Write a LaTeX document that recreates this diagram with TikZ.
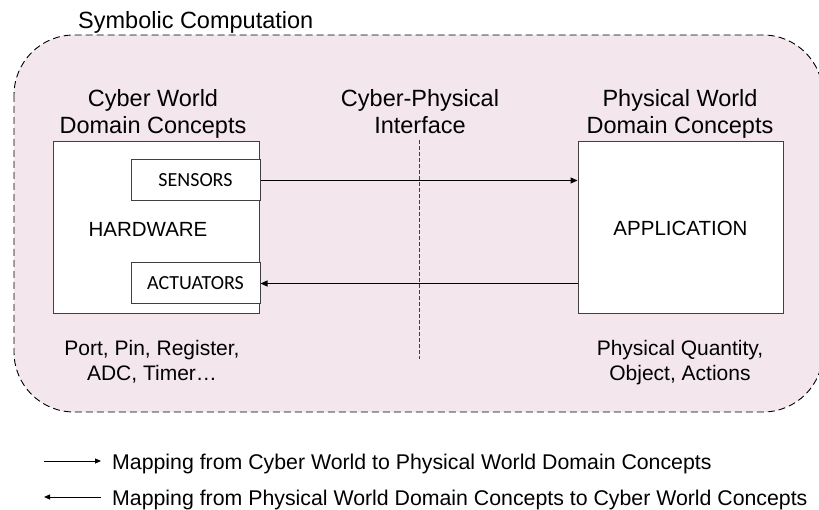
\documentclass[tikz,border=0pt]{standalone}
\usepackage{fontspec}
\setmainfont{Liberation Sans}
\newfontfamily\boxfont{Carlito}
\usetikzlibrary{arrows.meta}
\definecolor{regionpink}{RGB}{243,230,237}
\definecolor{boxgray}{RGB}{64,64,64}
\tikzset{
  region/.style={draw=black, line width=0.9pt, dash pattern=on 7pt off 4pt, fill=regionpink, rounded corners=60pt},
  blockbox/.style={draw=boxgray, line width=1pt, fill=white},
  portbox/.style={draw=boxgray, line width=1pt, fill=white, inner sep=0pt, font=\boxfont\fontsize{20}{22}\selectfont},
  heading/.style={align=center, inner sep=0pt, anchor=north, font=\fontsize{23.5}{27}\selectfont},
  blocklabel/.style={inner sep=0pt, font=\fontsize{20.5}{24}\selectfont},
  notes/.style={align=center, inner sep=0pt, anchor=north, font=\fontsize{21}{25}\selectfont},
  legendtext/.style={anchor=base west, inner sep=0pt, font=\fontsize{21.3}{24}\selectfont},
  flow/.style={line width=1.1pt, -{Triangle[length=7pt,width=6pt]}},
  legendflow/.style={line width=1pt, -{Triangle[length=6pt,width=5pt]}},
  border/.style={draw=boxgray, line width=0.9pt, dash pattern=on 4pt off 2pt}
}
\begin{document}
\begin{tikzpicture}[x=1pt, y=-1pt]
\useasboundingbox (0,0) rectangle (819,510);
\clip (0,0) rectangle (819,510);

% symbolic computation region
\draw[region] (14,35) rectangle (823,412);
\node[anchor=base west, inner sep=0pt, font=\fontsize{23.5}{27}\selectfont] (title) at (78,29) {Symbolic Computation};

% column headings
\node[heading] (cyberhead) at (153,89) {Cyber World\\Domain Concepts};
\node[heading] (interhead) at (420,89) {Cyber-Physical\\Interface};
\node[heading] (physhead) at (680,89) {Physical World\\Domain Concepts};

% interface boundary
\coordinate (btop) at (419,140);
\coordinate (bbot) at (419,359);
\draw[border] (btop) -- (bbot);

% hardware block with its ports
\draw[blockbox] (53,142) rectangle (259,314);
\node[blocklabel] (hw) at (148,229) {HARDWARE};
\node[portbox, minimum width=129pt, minimum height=41pt] (sensors) at (195.5,180.5) {SENSORS};
\node[portbox, minimum width=129pt, minimum height=41pt] (actuators) at (195.5,283.5) {ACTUATORS};

% application block
\node[blockbox, minimum width=205pt, minimum height=172pt, inner sep=0pt, font=\fontsize{20.5}{24}\selectfont] (app) at (680.5,228) {APPLICATION};

% mappings
\draw[flow] (sensors.east) -- (sensors.east -| app.west);
\draw[flow] (actuators.east -| app.west) -- (actuators.east);

% concept examples
\node[notes] (cybernotes) at (152,340) {Port, Pin, Register,\\ADC, Timer…};
\node[notes] (physnotes) at (680,340) {Physical Quantity,\\Object, Actions};

% legend
\coordinate (l1a) at (44,461);
\coordinate (l1b) at (101,461);
\coordinate (l2a) at (101,497);
\coordinate (l2b) at (44,497);
\draw[legendflow] (l1a) -- (l1b);
\draw[legendflow] (l2a) -- (l2b);
\node[legendtext] (leg1) at (112,469) {Mapping from Cyber World to Physical World Domain Concepts};
\node[legendtext] (leg2) at (112,505) {Mapping from Physical World Domain Concepts to Cyber World Concepts};
\end{tikzpicture}
\end{document}
